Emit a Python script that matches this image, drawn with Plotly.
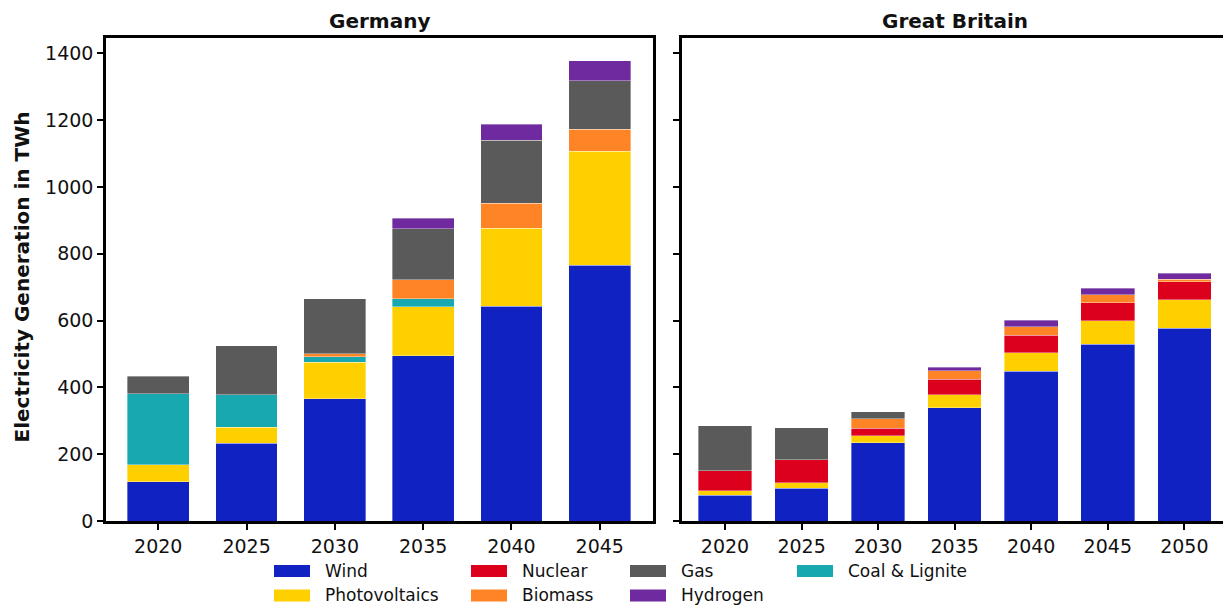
import plotly.graph_objects as go

# ---- data (TWh) ----
de_years = ["2020", "2025", "2030", "2035", "2040", "2045"]
gb_years = ["2020", "2025", "2030", "2035", "2040", "2045", "2050"]

sources = ["Wind", "Photovoltaics", "Coal & Lignite", "Nuclear", "Biomass", "Gas", "Hydrogen"]
source_colors = ["#1022C2", "#FFD000", "#18A8B0", "#DC001C", "#FF8425", "#5A5A5A", "#6E2A9E"]

de_wind = [118, 233, 366, 495, 643, 765]
de_pv = [50, 48, 109, 146, 233, 342]
de_coal = [213, 97, 17, 24, 0, 0]
de_nuclear = [0, 0, 0, 0, 0, 0]
de_biomass = [0, 0, 9, 58, 75, 66]
de_gas = [52, 147, 164, 152, 189, 145]
de_hydrogen = [0, 0, 0, 32, 48, 59]

gb_wind = [77, 98, 234, 339, 449, 529, 577]
gb_pv = [14, 17, 22, 39, 55, 71, 85]
gb_coal = [0, 0, 0, 0, 0, 0, 0]
gb_nuclear = [60, 69, 22, 47, 52, 53, 55]
gb_biomass = [0, 0, 28, 25, 26, 25, 7]
gb_gas = [134, 95, 22, 0, 0, 0, 0]
gb_hydrogen = [0, 0, 0, 11, 19, 19, 18]

de_series = [de_wind, de_pv, de_coal, de_nuclear, de_biomass, de_gas, de_hydrogen]
gb_series = [gb_wind, gb_pv, gb_coal, gb_nuclear, gb_biomass, gb_gas, gb_hydrogen]

y_ticks = [0, 200, 400, 600, 800, 1000, 1200, 1400]

# ---- layout geometry ----
W, H = 1223, 595
FONT = "DejaVu Sans"


def px_x(x):
    return x / W


def px_y(y):
    return 1 - y / H


fig = go.Figure()


def nz(values):
    return [v if v else None for v in values]


for name, color, de_vals, gb_vals in zip(sources, source_colors, de_series, gb_series):
    for years, vals, xa, ya in ((de_years, de_vals, "x", "y"), (gb_years, gb_vals, "x2", "y2")):
        fig.add_trace(go.Bar(
            x=years, y=nz(vals), name=name, xaxis=xa, yaxis=ya,
            marker=dict(color=color, line=dict(color="rgba(255,255,255,0.6)", width=0.6)),
            width=0.7, showlegend=False,
        ))

axis_common = dict(
    showline=True, linecolor="black", linewidth=2.5,
    ticks="outside", ticklen=6, tickwidth=2, tickcolor="black",
    showgrid=False, zeroline=False,
    tickfont=dict(family=FONT, size=19, color="#111"),
)

y_range = [0, 1446]
y_dom = [px_y(522), px_y(38)]

fig.update_layout(
    autosize=True,
    margin=dict(l=0, r=0, t=0, b=0, pad=0),
    paper_bgcolor="white", plot_bgcolor="white",
    barmode="stack", bargap=0.3,
    showlegend=False,
    font=dict(family=FONT, color="#111"),
    xaxis=dict(domain=[px_x(106), px_x(653)], range=[-0.592, 5.603], mirror=True,
               type="category", anchor="y", **axis_common),
    yaxis=dict(domain=y_dom, range=y_range, mirror=True, tickvals=y_ticks,
               anchor="x", **axis_common),
    xaxis2=dict(domain=[px_x(682), 1.0], range=[-0.562, 6.505], mirror=True,
                type="category", anchor="y2", **axis_common),
    yaxis2=dict(domain=y_dom, range=y_range, mirror=False, tickvals=y_ticks,
                showticklabels=False, anchor="x2", **axis_common),
)

annotations = [
    dict(text="Germany", x=px_x(379.5), y=px_y(21.5)),
    dict(text="Great Britain", x=px_x(955), y=px_y(21.5)),
]
for a in annotations:
    fig.add_annotation(xref="paper", yref="paper", xanchor="center", yanchor="middle",
                       showarrow=False, font=dict(family=FONT, size=20, color="#111", weight="bold"),
                       **a)

fig.add_annotation(text="Electricity Generation in TWh", xref="paper", yref="paper",
                   x=px_x(22), y=px_y(278), textangle=-90, showarrow=False,
                   xanchor="center", yanchor="middle",
                   font=dict(family=FONT, size=20, color="#111", weight="bold"))

# ---- legend below the panels, filled column by column ----
legend_cols = [["Wind", "Photovoltaics"], ["Nuclear", "Biomass"], ["Gas", "Hydrogen"], ["Coal & Lignite"]]
col_left = [274, 471, 630, 797]
row_mid = [572, 596.5]
sw_w, sw_h, text_gap = 36, 12, 49
color_of = dict(zip(sources, source_colors))

for col, x0 in zip(legend_cols, col_left):
    for r, name in enumerate(col):
        yc = row_mid[r]
        fig.add_shape(type="rect", xref="paper", yref="paper",
                      x0=px_x(x0), x1=px_x(x0 + sw_w),
                      y0=px_y(yc + sw_h / 2), y1=px_y(yc - sw_h / 2),
                      fillcolor=color_of[name], line=dict(width=0))
        fig.add_annotation(text=name, xref="paper", yref="paper",
                           x=px_x(x0 + text_gap), y=px_y(yc), xanchor="left", yanchor="middle",
                           showarrow=False, font=dict(family=FONT, size=17, color="#111"))

fig.write_html("out.html", default_width="100vw", default_height="100vh")
